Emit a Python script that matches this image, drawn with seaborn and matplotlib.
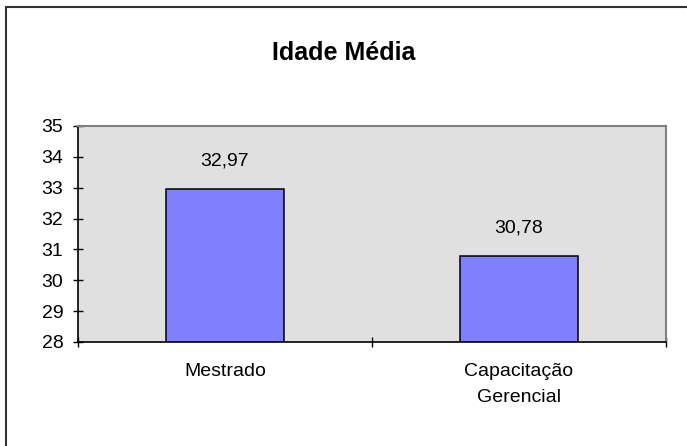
import matplotlib
matplotlib.use('Agg')
import matplotlib.pyplot as plt
import pandas as pd
import seaborn as sns
from matplotlib.lines import Line2D

categories = ['Mestrado', 'Capacitação\nGerencial']
values = [32.97, 30.78]
y_ticks = [28, 29, 30, 31, 32, 33, 34, 35]

sns.set_style('white')
plt.rcParams['font.family'] = ['Liberation Sans', 'DejaVu Sans']
plt.rcParams['text.color'] = 'black'
plt.rcParams['xtick.color'] = 'black'
plt.rcParams['ytick.color'] = 'black'

df = pd.DataFrame({'curso': categories, 'idade': values})

fig = plt.figure(figsize=(6.87, 4.46), dpi=100)
ax = fig.add_axes([78 / 687, 1 - 342 / 446, 588 / 687, 216 / 446])
ax.set_facecolor('#E0E0E0')

sns.barplot(data=df, x='curso', y='idade', color='#8080FF', saturation=1,
            width=0.4, edgecolor='black', linewidth=1.1, ax=ax)

ax.set_ylim(28, 35)
ax.set_xlim(-0.5, 1.5)
ax.set_yticks(y_ticks)
ax.set(xlabel='', ylabel='')

# valores acima das barras
for i, v in enumerate(values):
    ax.annotate(f'{v:.2f}'.replace('.', ','), (i, v), xytext=(0, 14),
                textcoords='offset points', ha='center', va='bottom',
                fontsize=14)

for s in ['left', 'bottom']:
    ax.spines[s].set_color('black')
    ax.spines[s].set_linewidth(1.2)
for s in ['top', 'right']:
    ax.spines[s].set_color('#808080')
    ax.spines[s].set_linewidth(1.5)

ax.tick_params(axis='y', which='major', direction='inout', length=7, width=1,
               labelsize=14, pad=7, left=True)
ax.set_xticks([-0.5, 0.5, 1.5], minor=True)
ax.tick_params(axis='x', which='minor', direction='inout', length=7, width=1,
               bottom=True)
ax.tick_params(axis='x', which='major', length=0, labelsize=14, pad=15)
for lab in ax.get_xticklabels():
    lab.set_linespacing(1.7)
    lab.set_va('top')

fig.text(0.5, 1 - 53 / 446, 'Idade Média', ha='center', va='center',
         fontsize=18, fontweight='bold')

# moldura externa
fig.add_artist(Line2D([6 / 687, 6 / 687], [0, 1 - 7 / 446], color='#333333',
                      lw=1.5, transform=fig.transFigure))
fig.add_artist(Line2D([6 / 687, 1], [1 - 7 / 446, 1 - 7 / 446], color='#333333',
                      lw=1.5, transform=fig.transFigure))

fig.savefig('out.png', dpi=100)
